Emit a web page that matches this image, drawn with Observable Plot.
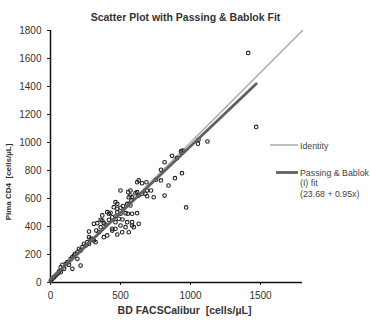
<!DOCTYPE html>
<html><head><meta charset="utf-8">
<script src="https://cdn.jsdelivr.net/npm/d3@7"></script>
<script src="https://cdn.jsdelivr.net/npm/@observablehq/plot@0.6"></script>
<style>
html,body{margin:0;padding:0;background:#fff;}
svg{font-family:"Liberation Sans",Arial,sans-serif;}
</style>
</head><body>
<div id="chart"></div>
<script>
const facsCalibur = [2,14,26,38,50,61,73,85,97,109,121,132,144,156,168,175,192,203,215,228,251,263,275,299,310,322,215,192,156,73,275,327,346,381,405,287,275,239,358,310,334,370,381,393,441,464,441,512,477,559,500,536,583,595,548,583,630,464,488,514,417,358,370,405,417,429,441,464,477,500,536,552,583,619,452,477,500,518,464,477,548,559,571,559,578,630,654,500,555,571,619,571,690,678,619,630,654,685,718,607,690,737,815,583,754,789,843,889,939,789,815,868,903,932,943,1057,1121,1053,969,1412,1469];
const pimaCD4 = [14,26,38,50,62,79,109,126,98,134,145,126,169,181,193,205,216,241,229,252,264,288,276,312,300,288,121,169,98,74,364,371,359,324,336,312,324,276,395,419,424,443,424,414,384,384,371,359,343,359,407,395,407,395,431,431,419,431,455,450,448,448,479,502,491,498,466,471,502,491,495,491,491,495,538,526,534,546,574,562,562,562,550,609,586,621,634,657,645,657,645,621,657,634,716,729,709,716,657,638,616,609,621,609,734,729,693,745,781,805,859,905,888,936,943,1019,1007,991,536,1640,1111];
const identityRange = [0, 1800];
const fitIntercept = 23.68;
const fitSlope = 0.95;
const fitRange = [0, 1470];
const xTicks = [0, 500, 1000, 1500];
const yTicks = [0, 200, 400, 600, 800, 1000, 1200, 1400, 1600, 1800];
const titleText = "Scatter Plot with Passing & Bablok Fit";
const xLabel = "BD FACSCalibur  [cells/µL]";
const yLabel = "Pima CD4  [cells/µL]";
const legendLabels = ["Identity", ["Passing & Bablok", "(I) fit", "(23.68 + 0.95x)"]];

const points = facsCalibur.map((x, i) => ({x, y: pimaCD4[i]}));
const identity = identityRange.map(v => ({x: v, y: v}));
const fit = fitRange.map(v => ({x: v, y: fitIntercept + fitSlope * v}));

const plot = Plot.plot({
  width: 371, height: 321,
  marginLeft: 50, marginRight: 69, marginTop: 30, marginBottom: 39,
  style: {fontFamily: '"Liberation Sans", Arial, sans-serif', fontSize: "10px", color: "#333", background: "#fff"},
  x: {domain: [0, 1800]},
  y: {domain: [0, 1800]},
  marks: [
    Plot.axisX({ticks: xTicks, tickFormat: d => String(d), tickSize: 3, tickPadding: 6, label: null, fontSize: 10, stroke: "#222"}),
    Plot.axisY({ticks: yTicks, tickFormat: d => String(d), tickSize: 3, tickPadding: 6, label: null, fontSize: 10, stroke: "#222"}),
    Plot.ruleY([0], {stroke: "#111", strokeWidth: 1.5}),
    Plot.ruleX([0], {stroke: "#111", strokeWidth: 1.5}),
    Plot.line(identity, {x: "x", y: "y", stroke: "#aaa", strokeWidth: 1.5}),
    Plot.dot(points, {x: "x", y: "y", r: 1.8, stroke: "#222", strokeWidth: 1.1, fill: "none"}),
    Plot.line(fit, {x: "x", y: "y", stroke: "#606060", strokeWidth: 2.8})
  ]
});
document.getElementById("chart").appendChild(plot);

const svg = d3.select(plot);
svg.append("text").attr("x", 185.5).attr("y", 21).attr("text-anchor", "middle")
  .attr("font-size", 10.5).attr("font-weight", "bold").attr("fill", "#333").text(titleText);
svg.append("text").attr("x", 184.5).attr("y", 314).attr("text-anchor", "middle")
  .attr("font-size", 10.5).attr("font-weight", "bold").attr("fill", "#333").text(xLabel);
svg.append("text").attr("transform", "translate(11,182) rotate(-90)").attr("text-anchor", "middle")
  .attr("font-size", 8).attr("font-weight", "bold").attr("fill", "#333").text(yLabel);

const lg = svg.append("g").attr("font-size", 8.8).attr("fill", "#444").attr("text-anchor", "start");
lg.append("line").attr("x1", 270).attr("x2", 298).attr("y1", 145).attr("y2", 145).attr("stroke", "#aaa").attr("stroke-width", 1.5);
lg.append("text").attr("x", 300).attr("y", 148.5).text(legendLabels[0]);
lg.append("line").attr("x1", 276).attr("x2", 298).attr("y1", 172.5).attr("y2", 172.5).attr("stroke", "#606060").attr("stroke-width", 2.8);
legendLabels[1].forEach((t, i) => {
  lg.append("text").attr("x", 300).attr("y", 175.5 + i * 10.5).text(t);
});
</script>
</body></html>
